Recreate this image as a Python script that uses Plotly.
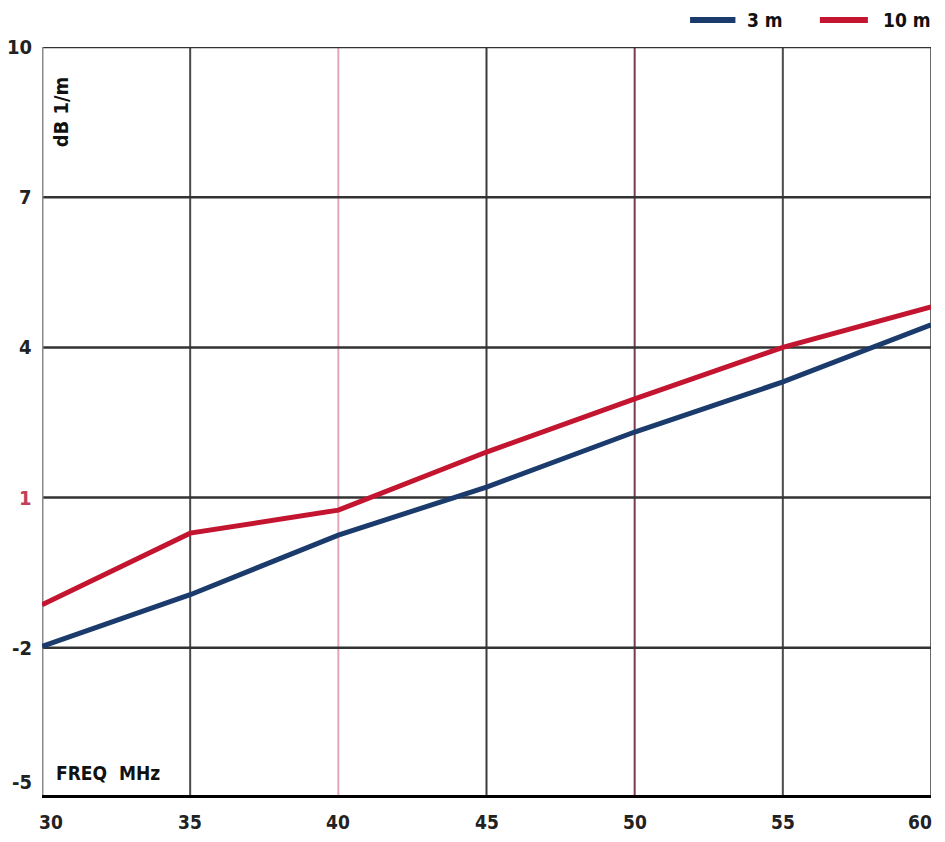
import plotly.graph_objects as go

freq = [30, 35, 40, 45, 50, 55, 60]
att_3m = [-1.97, -0.94, 0.25, 1.21, 2.31, 3.31, 4.45]
att_10m = [-1.14, 0.29, 0.75, 1.91, 2.97, 4.0, 4.81]

x_ticks = [30, 35, 40, 45, 50, 55, 60]
y_ticks = [-5, -2, 1, 4, 7, 10]
vgrid_colors = {35: "#4a4a4a", 40: "#e4a6b8", 45: "#3a3a3a", 50: "#7a3a55", 55: "#4a4a4a", 60: "#6a6a6a"}
ytick_colors = {-5: "#222", -2: "#222", 1: "#c0405a", 4: "#222", 7: "#222", 10: "#222"}
series_names = ["3 m", "10 m"]
series_colors = ["#1b3b6c", "#c3152f"]

font_fam = "DejaVu Sans Condensed, Liberation Sans Narrow, Arial Narrow, sans-serif"

fig = go.Figure()
for name, ys, col in zip(series_names, [att_3m, att_10m], series_colors):
    fig.add_trace(go.Scatter(x=freq, y=ys, mode="lines", name=name,
                             line=dict(color=col, width=5), showlegend=False))

shapes = []
for xv in x_ticks[1:]:
    shapes.append(dict(type="line", xref="x", yref="y", x0=xv, x1=xv, y0=-5, y1=10,
                       line=dict(color=vgrid_colors[xv], width=2), layer="below"))
for yv in y_ticks[1:]:
    shapes.append(dict(type="line", xref="x", yref="y", x0=30, x1=60, y0=yv, y1=yv,
                       line=dict(color="#333333", width=2.5), layer="below"))
shapes.append(dict(type="line", xref="x", yref="y", x0=30, x1=30, y0=-5, y1=10,
                   line=dict(color="#8a8a8a", width=3), layer="below"))
shapes.append(dict(type="line", xref="x", yref="y", x0=30, x1=60, y0=-5, y1=-5,
                   line=dict(color="#000000", width=6), layer="above"))

annotations = [
    dict(x=30.65, y=8.7, xref="x", yref="y", text="<b>dB 1/m</b>", textangle=-90,
         showarrow=False, font=dict(family=font_fam, size=20, color="#111")),
    dict(x=30.4, y=-4.5, xref="x", yref="y", text="<b>FREQ  MHz</b>", xanchor="left",
         showarrow=False, font=dict(family=font_fam, size=19, color="#111")),
]
for yv in y_ticks:
    annotations.append(dict(x=0, y=yv, xref="paper", yref="y", text="<b>%d</b>" % yv,
                            xanchor="right", yanchor="middle", xshift=-8,
                            yshift=(16 if yv == -5 else 0), showarrow=False,
                            font=dict(family=font_fam, size=20, color=ytick_colors[yv])))
for xv in x_ticks:
    anchor = "left" if xv == x_ticks[0] else ("right" if xv == x_ticks[-1] else "center")
    shift = -5 if xv == x_ticks[0] else (3 if xv == x_ticks[-1] else 0)
    annotations.append(dict(x=xv, y=0, xref="x", yref="paper", text="<b>%d</b>" % xv,
                            xanchor=anchor, yanchor="middle", xshift=shift, yshift=-24,
                            showarrow=False,
                            font=dict(family=font_fam, size=19, color="#222")))

# manual legend (paper coordinates)
leg_y = 1.036
leg_items = [(0.729, 0.780, 0.791), (0.875, 0.929, 0.944)]
for (x0, x1, xt), name, col in zip(leg_items, series_names, series_colors):
    shapes.append(dict(type="line", xref="paper", yref="paper", x0=x0, x1=x1,
                       y0=leg_y, y1=leg_y, line=dict(color=col, width=6)))
    annotations.append(dict(x=xt, y=leg_y, xref="paper", yref="paper",
                            text="<b>%s</b>" % name, xanchor="left", yanchor="middle",
                            showarrow=False,
                            font=dict(family=font_fam, size=19, color="#111")))

fig.update_layout(
    width=929, height=826,
    margin=dict(l=34, r=6, t=39, b=36, autoexpand=False),
    paper_bgcolor="white", plot_bgcolor="white",
    shapes=shapes, annotations=annotations,
    showlegend=False,
    xaxis=dict(range=[30, 60], showgrid=False, zeroline=False, showline=False,
               ticks="", showticklabels=False),
    yaxis=dict(range=[-5, 10], showgrid=False, zeroline=False, showline=False,
               ticks="", showticklabels=False),
)
fig.write_html("out.html")
